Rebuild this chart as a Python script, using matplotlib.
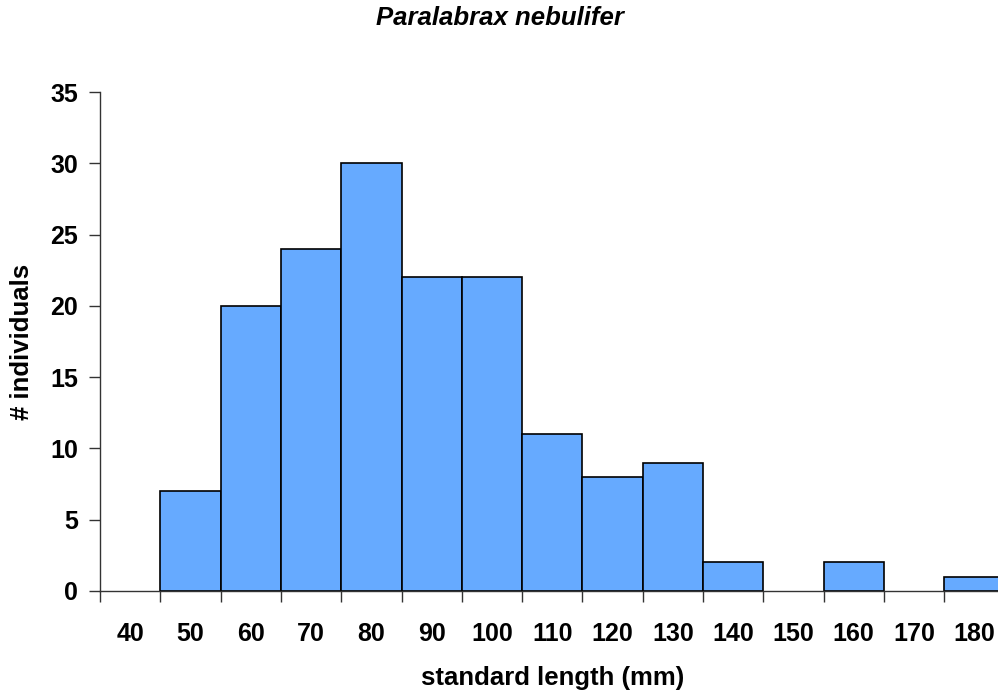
import matplotlib

matplotlib.use("Agg")

import matplotlib.pyplot as plt
import numpy as np

plt.rcParams["font.family"] = ["Liberation Sans", "DejaVu Sans"]

length_bins = [40, 50, 60, 70, 80, 90, 100, 110, 120, 130, 140, 150, 160, 170, 180]
counts = [0, 7, 20, 24, 30, 22, 22, 11, 8, 9, 2, 0, 2, 0, 1]
y_ticks = [0, 5, 10, 15, 20, 25, 30, 35]

fig = plt.figure(figsize=(9.98, 6.94), dpi=100)
ax = fig.add_axes([100 / 998, 1 - 591 / 694, 904.5 / 998, (591 - 92) / 694])

x = np.arange(len(length_bins))
# empty bins get no outline so only the axis line shows there
edge_widths = [0 if c == 0 else 1.2 for c in counts]
ax.bar(x, counts, width=1.0, color="#66AAFF", edgecolor="black", linewidth=edge_widths, zorder=2)

ax.set_xlim(-0.5, len(length_bins) - 0.5)
ax.set_ylim(0, 35)

# boundary tick marks, labels sit between them
ax.set_xticks(np.arange(len(length_bins) + 1) - 0.5)
ax.set_xticklabels([])
ax.set_xticks(x, minor=True)
ax.set_xticklabels([str(v) for v in length_bins], minor=True)
ax.tick_params(axis="x", which="major", direction="out", length=8, width=1, color="#333333")
ax.tick_params(axis="x", which="minor", length=0, pad=22, labelsize=18)

ax.set_yticks(y_ticks)
ax.set_yticklabels([str(v) for v in y_ticks])
ax.tick_params(axis="y", direction="out", length=8, width=1, color="#333333", pad=8, labelsize=18)

for lbl in ax.get_xticklabels(minor=True) + ax.get_yticklabels():
    lbl.set_fontweight("bold")

for side in ["top", "right"]:
    ax.spines[side].set_visible(False)
for side in ["left", "bottom"]:
    ax.spines[side].set_color("#333333")
    ax.spines[side].set_linewidth(1)

fig.text(500 / 998, 1 - 18 / 694, "Paralabrax nebulifer", ha="center", va="center",
         fontsize=18.5, fontweight="bold", fontstyle="italic")
fig.text(553 / 998, 1 - 678 / 694, "standard length (mm)", ha="center", va="center",
         fontsize=18.5, fontweight="bold")
fig.text(22 / 998, 1 - 342 / 694, "# individuals", ha="center", va="center",
         rotation=90, fontsize=18.5, fontweight="bold")

fig.savefig("out.png", dpi=100)
